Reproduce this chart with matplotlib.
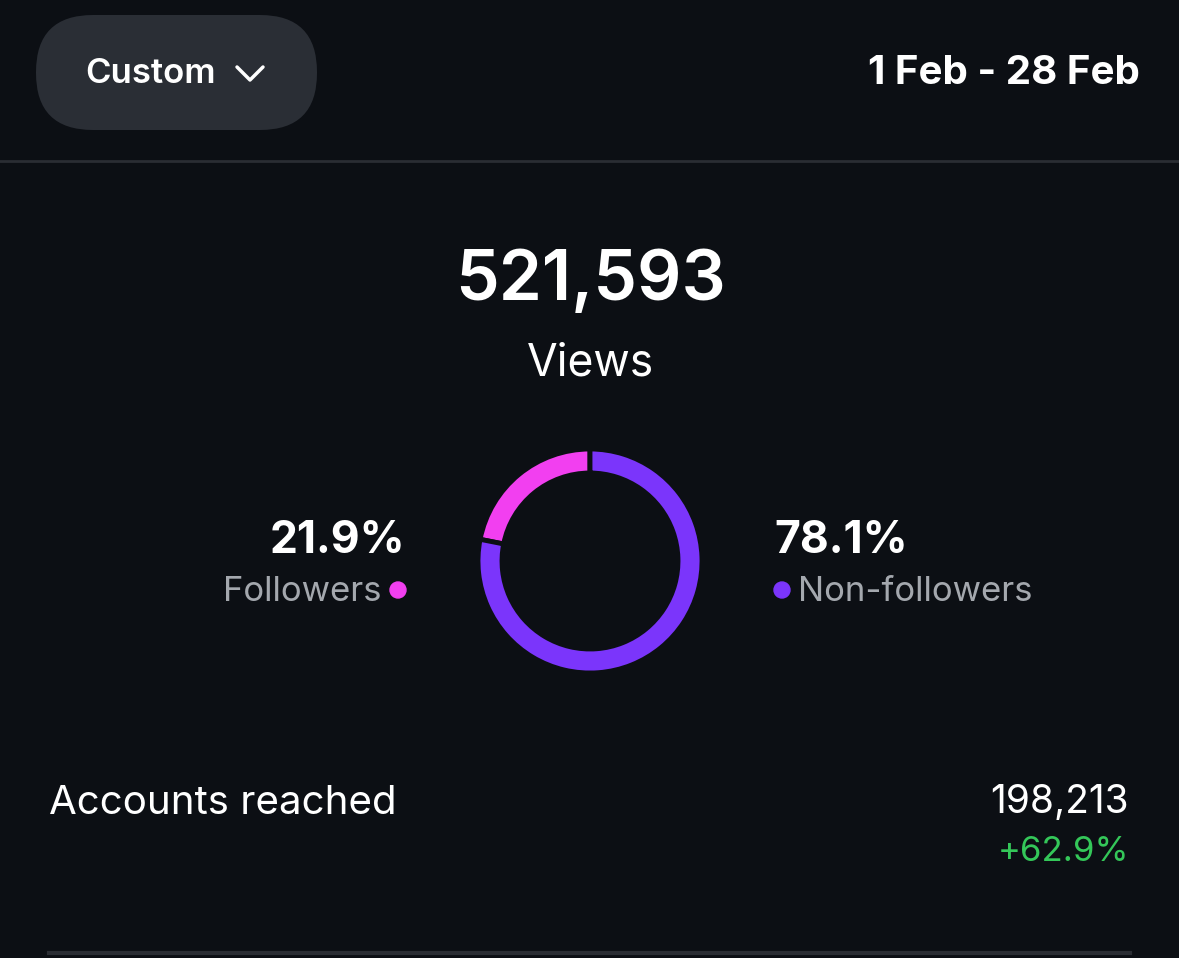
import matplotlib.pyplot as plt
from matplotlib.patches import FancyBboxPatch, Circle

plt.rcParams['font.family'] = ['Inter', 'DejaVu Sans']

W, H = 1179, 958
bg = '#0c0f14'

segments = ['Followers', 'Non-followers']
shares = [21.9, 78.1]
seg_colors = ['#f23ff0', '#7b35fb']
total_views = '521,593'
date_range = '1 Feb - 28 Feb'
reached = '198,213'
reached_change = '+62.9%'

fig = plt.figure(figsize=(W / 100, H / 100), dpi=100, facecolor=bg)
ax = fig.add_axes([0, 0, 1, 1])
ax.set_facecolor(bg)
ax.set_xlim(0, W)
ax.set_ylim(0, H)
ax.set_aspect('equal')
ax.axis('off')

def Y(py):
    return H - py

# header button
ax.add_patch(FancyBboxPatch((36 + 57, Y(130) + 57), 281 - 114, 115 - 114,
                            boxstyle='round,pad=57', fc='#2a2e35', ec='none'))
ax.text(85, Y(74), 'Custom', color='white', fontsize=25, fontweight='semibold',
        va='center', ha='left')
ax.plot([237, 250, 263], [Y(67), Y(80), Y(67)], color='white', lw=2.5,
        solid_capstyle='round', solid_joinstyle='round')
ax.text(1140, Y(73), date_range, color='white', fontsize=29, fontweight='bold',
        va='center', ha='right')
ax.plot([0, W], [Y(161), Y(161)], color='#2a2d33', lw=2)

# headline
ax.text(590, Y(281), total_views, color='white', fontsize=50, fontweight='semibold',
        va='center', ha='center')
ax.text(590, Y(363), 'Views', color='white', fontsize=32, va='center', ha='center')

# donut
cx, cy = 590, Y(561)
ax.pie(shares, colors=seg_colors, startangle=90, counterclock=True,
       center=(cx, cy), radius=112, frame=True,
       wedgeprops=dict(width=24, edgecolor=bg, linewidth=3.5))
ax.set_xlim(0, W)
ax.set_ylim(0, H)
ax.axis('off')

# labels
ax.text(405, Y(541), f'{shares[0]}%', color='white', fontsize=32, fontweight='bold',
        va='center', ha='right')
ax.text(381, Y(592), segments[0], color='#a4a8ae', fontsize=25, va='center', ha='right')
ax.add_patch(Circle((398, Y(590)), 8, color=seg_colors[0]))
ax.text(774, Y(541), f'{shares[1]}%', color='white', fontsize=32, fontweight='bold',
        va='center', ha='left')
ax.add_patch(Circle((782, Y(590)), 8, color=seg_colors[1]))
ax.text(798, Y(592), segments[1], color='#a4a8ae', fontsize=25, va='center', ha='left')

# accounts reached
ax.text(49, Y(803), 'Accounts reached', color='white', fontsize=29, va='center', ha='left')
ax.text(1129, Y(803), reached, color='white', fontsize=28, va='center', ha='right')
ax.text(1129, Y(852), reached_change, color='#34c759', fontsize=25, va='center', ha='right')
ax.plot([49, 1130], [Y(953), Y(953)], color='#2a2d33', lw=3)

fig.savefig('out.png', dpi=100, facecolor=bg)
